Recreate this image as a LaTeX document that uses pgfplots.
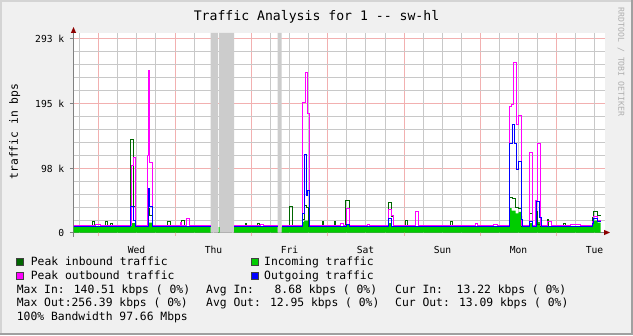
\documentclass[border=0pt]{standalone}
\usepackage{fontspec}
\setmainfont{DejaVu Sans Mono}
\usepackage{pgfplots}
\pgfplotsset{compat=1.18}
\usetikzlibrary{arrows.meta}
\definecolor{bg}{HTML}{F0F0F0}
\definecolor{peakin}{HTML}{006600}
\definecolor{incol}{HTML}{00CC00}
\definecolor{peakout}{HTML}{FF00FF}
\definecolor{outcol}{HTML}{0000FF}
\definecolor{majgrid}{HTML}{F2B0B0}
\definecolor{mingrid}{HTML}{C8C8C8}
\definecolor{band}{HTML}{CCCCCC}
\definecolor{axcol}{HTML}{808080}
\begin{document}
\begin{tikzpicture}[x=1bp,y=1bp]
\useasboundingbox (0,0) rectangle (633,335);
\fill[bg] (0,0) rectangle (633,335);
\draw[line width=2bp, draw={rgb,255:red,212;green,212;blue,212}] (1,0) -- (1,334) -- (633,334);
\draw[line width=2bp, draw={rgb,255:red,160;green,160;blue,160}] (0,1) -- (632,1) -- (632,335);
\node[font=\fontsize{13.2}{15}\selectfont] at (316.5,318.5) {Traffic Analysis for 1 -\kern0pt- sw-hl};
\node[rotate=90, font=\fontsize{11.4}{13}\selectfont] at (14.7,203.5) {traffic in bps};
\node[rotate=-90, font=\fontsize{8.2}{10}\selectfont, text={rgb,255:red,175;green,175;blue,175}] at (621,273) {RRDTOOL / TOBI OETIKER};
\begin{axis}[
  at={(73.5bp,102.5bp)}, anchor=south west,
  scale only axis, width=531.5bp, height=199.5bp,
  xmin=0, xmax=531.5, ymin=0, ymax=301.275,
  axis background/.style={fill=white},
  axis x line=bottom, axis y line=left,
  axis line style={draw=axcol, line width=1bp},
  x axis line style={-{Triangle[length=6bp,width=5bp,color=red!55!black]}, shorten >=-5bp},
  y axis line style={-{Triangle[length=6bp,width=5bp,color=red!55!black]}, shorten >=-6bp, shorten <=-4bp},
  unbounded coords=jump,
  xtick={63,140,216,292,369,445,521},
  xticklabels={Wed,Thu,Fri,Sat,Sun,Mon,Tue},
  xtick style={draw=none},
  xticklabel style={anchor=base, yshift=-17bp},
  extra x ticks={25,102,178,254,331,407,483},
  extra x tick labels={},
  extra x tick style={major tick length=3bp, grid=major, major grid style={draw=majgrid, line width=1bp}, xtick style={draw=majgrid}},
  ytick={0,96.65,194.81,292.97},
  yticklabels={0,98 k,195 k,293 k},
  ymajorgrids=true,
  major grid style={draw=majgrid, line width=1bp},
  tick align=outside,
  major tick length=4bp, minor tick length=0pt,
  tick style={draw=axcol, line width=1bp},
  ticklabel style={font=\fontsize{9.7}{11}\selectfont},
  yticklabel style={inner sep=0pt, anchor=east, xshift=-5bp},
  /pgf/number format/assume math mode=true,
  every axis plot/.append style={const plot, line width=1bp},
]
% fine grid (every 6 h, every 19.5 k)
\addplot[draw=mingrid, sharp plot, forget plot] coordinates {(6,0) (6,301.275) (6,nan) (44,0) (44,301.275) (44,nan) (63,0) (63,301.275) (63,nan) (82,0) (82,301.275) (82,nan) (121,0) (121,301.275) (121,nan) (140,0) (140,301.275) (140,nan) (159,0) (159,301.275) (159,nan) (197,0) (197,301.275) (197,nan) (216,0) (216,301.275) (216,nan) (235,0) (235,301.275) (235,nan) (273,0) (273,301.275) (273,nan) (292,0) (292,301.275) (292,nan) (312,0) (312,301.275) (312,nan) (350,0) (350,301.275) (350,nan) (369,0) (369,301.275) (369,nan) (388,0) (388,301.275) (388,nan) (426,0) (426,301.275) (426,nan) (445,0) (445,301.275) (445,nan) (464,0) (464,301.275) (464,nan) (502,0) (502,301.275) (502,nan) (521,0) (521,301.275)};
\addplot[draw=mingrid, sharp plot, forget plot] coordinates {(0,18.12) (531.5,18.12) (nan,18.12) (0,37.75) (531.5,37.75) (nan,37.75) (0,57.39) (531.5,57.39) (nan,57.39) (0,77.02) (531.5,77.02) (nan,77.02) (0,116.28) (531.5,116.28) (nan,116.28) (0,135.91) (531.5,135.91) (nan,135.91) (0,155.55) (531.5,155.55) (nan,155.55) (0,175.18) (531.5,175.18) (nan,175.18) (0,214.44) (531.5,214.44) (nan,214.44) (0,234.07) (531.5,234.07) (nan,234.07) (0,253.71) (531.5,253.71) (nan,253.71) (0,273.34) (531.5,273.34)};
% unknown-data bands
\addplot[fill=band, draw=none] coordinates {(137,301.275) (144.7,301.275)} \closedcycle;
\addplot[fill=band, draw=none] coordinates {(145.7,301.275) (160.7,301.275)} \closedcycle;
\addplot[fill=band, draw=none] coordinates {(204,301.275) (208,301.275)} \closedcycle;
% Incoming traffic (area)
\addplot[fill=incol, draw=none] coordinates {(0,8) (56.7,14) (62.3,8) (73.7,15) (78.7,8) (137,8)} \closedcycle;
\addplot[fill=incol, draw=none] coordinates {(145,8) (146,8)} \closedcycle;
\addplot[fill=incol, draw=none] coordinates {(160.7,8) (204,8)} \closedcycle;
\addplot[fill=incol, draw=none] coordinates {(208,8) (229,16) (230.7,18) (235.7,8) (272.3,12) (275.7,8) (314.7,14) (317.7,8) (436.3,37) (438,33) (442,29) (445,31) (447.7,25) (448.7,8) (456.3,14) (458.7,8) (462,16) (466.7,12) (468,8) (519,18) (524,15) (527,15)} \closedcycle;
% Peak inbound traffic
\addplot[draw=peakin] coordinates {(0,8.8) (19.3,16.6) (21.3,8.8) (32.3,16) (33.7,8.8) (37,14) (38.7,8.8) (57,140.5) (59.7,40) (62.3,8.8) (74.3,36) (76.3,25) (78.7,8.8) (94.3,16.6) (97.3,8.8) (108.3,18) (110.7,8.8) (137,8.8)};
\addplot[draw=peakin] coordinates {(160.7,8.8) (172,14) (173,8.8) (184.3,13) (186.3,8.8) (204,8.8)};
\addplot[draw=peakin] coordinates {(208,8.8) (216.3,39) (218.7,8.8) (229.3,20) (230.7,41) (232.7,38) (235.3,8.8) (248.7,16.6) (250.3,8.8) (261,16.6) (262.3,8.8) (272.3,49) (275.7,8.8) (314.7,46) (317.7,24) (320.3,8.8) (332,18) (334.3,8.8) (377,17) (378.7,8.8) (436.3,53) (439.3,51) (442,38) (445,36) (447.7,8.8) (456.3,28) (458.7,8.8) (462,31) (463.7,12) (466.7,8.8) (473.7,20) (475.3,8.8) (490.3,14) (492,8.8) (518.7,22) (520.3,31) (523.7,26) (527,26)};
% Peak outbound traffic
\addplot[draw=peakout] coordinates {(0,10.2) (22,11.5) (27,10.2) (57.7,100.7) (59.7,114) (62.3,10.2) (73.7,116) (75.3,245) (76.3,105) (78.7,10.2) (107.3,15.6) (108.3,10.2) (113.3,20.6) (116,10.2) (137,10.2)};
\addplot[draw=peakout] coordinates {(160.7,10.2) (187,12) (190,10.2) (204,10.2)};
\addplot[draw=peakout] coordinates {(208,10.2) (228.7,197) (232.3,241) (234.3,179) (235.7,10.2) (267,13) (269.7,10.2) (273,37) (275.7,10.2) (293.7,12) (296.3,10.2) (315,34) (317.7,26) (320.3,10.2) (342,32) (345.3,10.2) (402,13) (403.7,10.2) (420,12) (423.7,10.2) (436.3,190) (438,194) (439.7,256.4) (442.7,163) (445.3,177) (447.7,10.2) (456.3,121) (458.7,10.2) (462.3,48) (464,135) (466.7,10.2) (473.7,17) (477.7,10.2) (497,11.5) (507,10.2) (519,17) (520.3,24) (523.7,18) (527,18)};
% Outgoing traffic
\addplot[draw=outcol] coordinates {(0,8.8) (56.7,39) (59.7,18) (62.3,8.8) (74.7,66) (76.3,40) (78.7,8.8) (137,8.8)};
\addplot[draw=outcol] coordinates {(160.7,8.8) (204,8.8)};
\addplot[draw=outcol] coordinates {(208,8.8) (229,29) (231,118) (232.7,56) (234.3,63) (235.7,8.8) (273,12) (275.7,8.8) (314.7,21) (317.7,8.8) (436.3,134) (439.3,163) (440.7,134) (443.3,95) (444.7,107) (447.7,20) (448.7,8.8) (456.3,17) (458.7,8.8) (463,47) (466.3,23) (468,8.8) (519,14) (520.3,21) (524,17) (527,17)};
\end{axis}
% legend
\begin{scope}[font=\fontsize{11.4}{13}\selectfont]
\filldraw[fill=peakin, draw=black!75, line width=0.5bp] (16.5,69.8) rectangle (23,76.3);
\node[anchor=base west, inner sep=0pt] at (30.7,69.3) {Peak inbound traffic};
\filldraw[fill=incol, draw=black!75, line width=0.5bp] (251.4,69.8) rectangle (257.9,76.3);
\node[anchor=base west, inner sep=0pt] at (264,69.3) {Incoming traffic};
\filldraw[fill=peakout, draw=black!75, line width=0.5bp] (16.5,56.2) rectangle (23,62.7);
\node[anchor=base west, inner sep=0pt] at (30.7,55.7) {Peak outbound traffic};
\filldraw[fill=outcol, draw=black!75, line width=0.5bp] (251.4,56.2) rectangle (257.9,62.7);
\node[anchor=base west, inner sep=0pt] at (264,55.7) {Outgoing traffic};
\node[anchor=base west, inner sep=0pt] at (16.7,42) {Max In: 140.51 kbps (~0\%)};
\node[anchor=base west, inner sep=0pt] at (206,42) {Avg In:~~~8.68 kbps (~0\%)};
\node[anchor=base west, inner sep=0pt] at (395,42) {Cur In:~~13.22 kbps (~0\%)};
\node[anchor=base west, inner sep=0pt] at (16.7,28.3) {Max Out:256.39 kbps (~0\%)};
\node[anchor=base west, inner sep=0pt] at (206,28.3) {Avg Out: 12.95 kbps (~0\%)};
\node[anchor=base west, inner sep=0pt] at (395,28.3) {Cur Out: 13.09 kbps (~0\%)};
\node[anchor=base west, inner sep=0pt] at (16.7,14.7) {100\% Bandwidth 97.66 Mbps};
\end{scope}
\end{tikzpicture}
\end{document}
